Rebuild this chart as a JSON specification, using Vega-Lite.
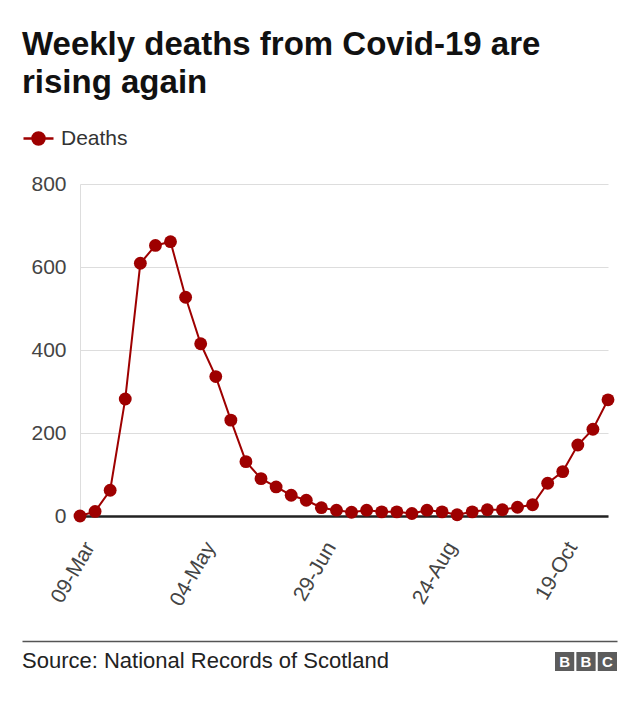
{
  "$schema": "https://vega.github.io/schema/vega-lite/v6.json",
  "padding": {"left": 22, "top": 29, "right": 23, "bottom": 31},
  "autosize": {"type": "pad"},
  "background": "white",
  "title": {
    "text": ["Weekly deaths from Covid-19 are", "rising again"],
    "anchor": "start",
    "frame": "bounds",
    "fontSize": 33,
    "fontWeight": "bold",
    "font": "Liberation Sans",
    "color": "#111111",
    "lineHeight": 38,
    "offset": 22
  },
  "spacing": 31,
  "vconcat": [
    {
      "width": 528,
      "height": 332,
      "data": {
        "values": [
          {"week": "09-Mar", "deaths": 0},
          {"week": "16-Mar", "deaths": 11},
          {"week": "23-Mar", "deaths": 62},
          {"week": "30-Mar", "deaths": 282},
          {"week": "06-Apr", "deaths": 609},
          {"week": "13-Apr", "deaths": 652},
          {"week": "20-Apr", "deaths": 661},
          {"week": "27-Apr", "deaths": 527},
          {"week": "04-May", "deaths": 415},
          {"week": "11-May", "deaths": 336},
          {"week": "18-May", "deaths": 231},
          {"week": "25-May", "deaths": 131},
          {"week": "01-Jun", "deaths": 90},
          {"week": "08-Jun", "deaths": 70},
          {"week": "15-Jun", "deaths": 50},
          {"week": "22-Jun", "deaths": 38},
          {"week": "29-Jun", "deaths": 20},
          {"week": "06-Jul", "deaths": 14},
          {"week": "13-Jul", "deaths": 9},
          {"week": "20-Jul", "deaths": 14},
          {"week": "27-Jul", "deaths": 10},
          {"week": "03-Aug", "deaths": 10},
          {"week": "10-Aug", "deaths": 6},
          {"week": "17-Aug", "deaths": 14},
          {"week": "24-Aug", "deaths": 10},
          {"week": "31-Aug", "deaths": 3},
          {"week": "07-Sep", "deaths": 10},
          {"week": "14-Sep", "deaths": 15},
          {"week": "21-Sep", "deaths": 15},
          {"week": "28-Sep", "deaths": 21},
          {"week": "05-Oct", "deaths": 27},
          {"week": "12-Oct", "deaths": 79},
          {"week": "19-Oct", "deaths": 107},
          {"week": "26-Oct", "deaths": 171},
          {"week": "02-Nov", "deaths": 209},
          {"week": "09-Nov", "deaths": 280}
        ]
      },
      "encoding": {
        "x": {
          "field": "week",
          "type": "ordinal",
          "sort": null,
          "scale": {"type": "point", "padding": 0},
          "axis": {
            "title": null,
            "values": ["09-Mar", "04-May", "29-Jun", "24-Aug", "19-Oct"],
            "labelAngle": -60,
            "labelAlign": "right",
            "labelBaseline": "top",
            "labelPadding": 22,
            "ticks": false,
            "tickSize": 0,
            "grid": false,
            "domain": true,
            "domainColor": "#222222",
            "domainWidth": 2.5,
            "labelFontSize": 21,
            "labelFont": "Liberation Sans",
            "labelColor": "#444444"
          }
        },
        "y": {
          "field": "deaths",
          "type": "quantitative",
          "scale": {"domain": [0, 800], "nice": false},
          "axis": {
            "title": null,
            "values": [0, 200, 400, 600, 800],
            "grid": true,
            "gridColor": "#dddddd",
            "gridWidth": 1,
            "domain": true,
            "domainColor": "#dddddd",
            "ticks": false,
            "tickSize": 0,
            "labelPadding": 14,
            "labelFontSize": 21,
            "labelFont": "Liberation Sans",
            "labelColor": "#444444"
          }
        },
        "color": {
          "datum": "Deaths",
          "type": "nominal",
          "scale": {"range": ["#9e0000"]},
          "legend": {
            "title": null,
            "orient": "none",
            "legendX": -58,
            "legendY": -62,
            "padding": 0,
            "symbolType": "M-1,0L1,0M-0.4,0A0.4,0.4,0,1,0,0.4,0A0.4,0.4,0,1,0,-0.4,0Z",
            "symbolSize": 900,
            "symbolFillColor": "#9e0000",
            "symbolStrokeColor": "#9e0000",
            "symbolStrokeWidth": 2.5,
            "symbolOpacity": 1,
            "labelFontSize": 21,
            "labelFont": "Liberation Sans",
            "labelColor": "#333333",
            "labelOffset": 6
          }
        }
      },
      "layer": [
        {"mark": {"type": "line", "strokeWidth": 2}},
        {"mark": {"type": "point", "filled": true, "size": 165, "opacity": 1}}
      ]
    },
    {
      "width": 537,
      "height": 19,
      "data": {
        "values": [
          {"k": "1", "letter": "B"},
          {"k": "2", "letter": "B"},
          {"k": "3", "letter": "C"}
        ]
      },
      "title": {
        "text": "Source: National Records of Scotland",
        "orient": "bottom",
        "anchor": "start",
        "frame": "group",
        "dx": -58,
        "offset": -20,
        "fontSize": 22,
        "fontWeight": "normal",
        "font": "Liberation Sans",
        "color": "#222222"
      },
      "layer": [
        {
          "mark": {"type": "rule", "opacity": 0},
          "encoding": {
            "x": {
              "field": "k",
              "type": "nominal",
              "scale": {"type": "point", "range": [-58, 537]},
              "axis": {
                "orient": "top",
                "offset": 11,
                "title": null,
                "labels": false,
                "ticks": false,
                "grid": false,
                "domain": true,
                "domainColor": "#555555",
                "domainWidth": 1.5
              }
            }
          }
        },
        {
          "encoding": {
            "x": {
              "field": "k",
              "type": "nominal",
              "scale": {"type": "band", "range": [475, 537], "paddingInner": 0.1, "paddingOuter": 0},
              "axis": null
            }
          },
          "layer": [
            {"mark": {"type": "rect", "color": "#5c5c5c"}},
            {
              "mark": {"type": "text", "color": "white", "fontSize": 15, "fontWeight": "bold", "font": "Liberation Sans"},
              "encoding": {"text": {"field": "letter"}}
            }
          ]
        }
      ],
      "resolve": {"scale": {"x": "independent"}, "axis": {"x": "independent"}}
    }
  ],
  "config": {"view": {"stroke": null}, "font": "Liberation Sans"}
}
